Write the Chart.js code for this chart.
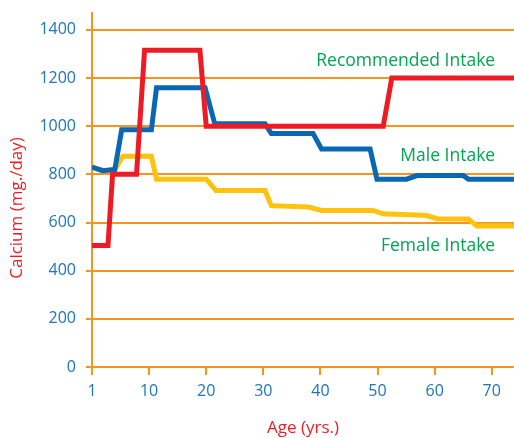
<!DOCTYPE html>
<html>
<head>
<meta charset="utf-8">
<script src="https://cdn.jsdelivr.net/npm/chart.js@4.4.1/dist/chart.umd.min.js"></script>
<style>
html,body{margin:0;padding:0;background:#fff;}
#wrap{width:514px;height:438px;position:relative;}
</style>
</head>
<body>
<div id="wrap"><canvas id="c" width="514" height="438"></canvas></div>
<script>
// ---- data (age position on the axis; first tick "1" sits at 0) ----
const recAges   = [0, 2.8, 3.6, 7.8, 9.2, 18.9, 20.0, 51.0, 52.5, 73.9];
const recValues = [505, 505, 800, 800, 1315, 1315, 1000, 1000, 1200, 1200];

const maleAges   = [0, 1.9, 4.0, 5.2, 10.4, 11.3, 19.8, 21.5, 30.3, 31.4, 38.7, 40.2, 48.7, 49.9, 55.1, 56.9, 65.0, 65.9, 73.9];
const maleValues = [830, 815, 820, 985, 985, 1160, 1160, 1010, 1010, 970, 970, 905, 905, 780, 780, 795, 795, 780, 780];

const femaleAges   = [0, 1.9, 4.0, 5.4, 10.4, 11.3, 20.0, 21.7, 30.3, 31.4, 37.9, 40.2, 49.2, 51.0, 58.6, 60.4, 65.9, 67.4, 73.9];
const femaleValues = [830, 815, 820, 875, 875, 780, 780, 733, 733, 670, 664, 650, 650, 636, 629, 616, 615, 585, 585];

const xTickValues = [0, 10, 20, 30, 40, 50, 60, 70];
const xTickLabels = ['1', '10', '20', '30', '40', '50', '60', '70'];
const yTickValues = [0, 200, 400, 600, 800, 1000, 1200, 1400];

const seriesLabels = ['Recommended Intake', 'Male Intake', 'Female Intake'];

const toPoints = (xs, ys) => xs.map((x, i) => ({x: x, y: ys[i]}));

const ORANGE = '#f7941d';
const BLUE_TXT = '#1b75bc';
const RED = '#ed1c24';
const GREEN = '#00a651';
const FONT = "'Open Sans', sans-serif";

// text labels near the lines, anchored in data space (right aligned)
const seriesNotes = [
  {text: seriesLabels[0], x: 70.6, y: 1272},
  {text: seriesLabels[1], x: 70.6, y: 878},
  {text: seriesLabels[2], x: 70.6, y: 501}
];

const notesPlugin = {
  id: 'notes',
  afterDatasetsDraw(chart) {
    const ctx = chart.ctx;
    const xs = chart.scales.x, ys = chart.scales.y;
    ctx.save();
    ctx.fillStyle = GREEN;
    ctx.font = "17.5px " + FONT;
    ctx.textAlign = 'right';
    ctx.textBaseline = 'middle';
    seriesNotes.forEach(n => {
      ctx.fillText(n.text, xs.getPixelForValue(n.x), ys.getPixelForValue(n.y));
    });
    // y axis title
    const ca = chart.chartArea;
    ctx.translate(17, (ca.top + ca.bottom) / 2 + 18);
    ctx.rotate(-Math.PI / 2);
    ctx.textAlign = 'center';
    ctx.fillStyle = RED;
    ctx.font = "17px " + FONT;
    ctx.fillText('Calcium (mg./day)', 0, 0);
    ctx.restore();
  }
};

new Chart(document.getElementById('c'), {
  type: 'line',
  data: {
    datasets: [
      {label: seriesLabels[0], data: toPoints(recAges, recValues), borderColor: RED, borderWidth: 5, order: 1},
      {label: seriesLabels[1], data: toPoints(maleAges, maleValues), borderColor: '#0868b4', borderWidth: 5, order: 2},
      {label: seriesLabels[2], data: toPoints(femaleAges, femaleValues), borderColor: '#ffc20e', borderWidth: 5, order: 3}
    ]
  },
  options: {
    responsive: false,
    animation: false,
    layout: {padding: {top: 13, left: 0, right: 0, bottom: 0}},
    elements: {point: {radius: 0}, line: {tension: 0, borderJoinStyle: 'miter', borderCapStyle: 'butt', fill: false}},
    plugins: {legend: {display: false}, tooltip: {enabled: false}},
    scales: {
      x: {
        type: 'linear',
        min: 0,
        max: 73.9,
        afterBuildTicks: s => { s.ticks = xTickValues.map(v => ({value: v})); },
        afterFit: s => { s.height = 71; s.paddingLeft = 0; s.paddingRight = 0; },
        ticks: {
          color: BLUE_TXT,
          font: {family: FONT, size: 16},
          padding: 7,
          maxRotation: 0,
          autoSkip: false,
          callback: (v) => xTickLabels[xTickValues.indexOf(v)]
        },
        grid: {drawOnChartArea: false, drawTicks: true, tickLength: 8, color: ORANGE, lineWidth: 2},
        border: {display: true, color: ORANGE, width: 2},
        title: {display: true, text: 'Age (yrs.)', color: RED, font: {family: FONT, size: 17}, padding: {top: 0, bottom: 0}}
      },
      y: {
        type: 'linear',
        min: 0,
        max: 1470,
        afterBuildTicks: s => { s.ticks = yTickValues.map(v => ({value: v})); },
        afterFit: s => { s.width = 92; s.paddingTop = 0; s.paddingBottom = 0; },
        ticks: {color: BLUE_TXT, font: {family: FONT, size: 16}, padding: 10, callback: v => String(v)},
        grid: {drawOnChartArea: true, drawTicks: true, tickLength: 6, color: ORANGE, lineWidth: 2},
        border: {display: true, color: ORANGE, width: 2}
      }
    }
  },
  plugins: [notesPlugin]
});
</script>
</body>
</html>
